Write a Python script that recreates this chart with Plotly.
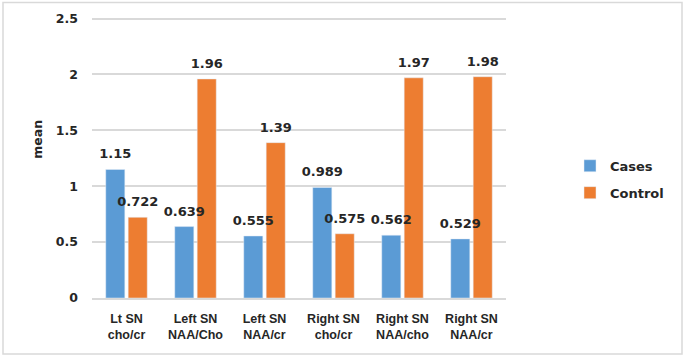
import plotly.graph_objects as go

categories = ["Lt SN<br>cho/cr", "Left SN<br>NAA/Cho", "Left SN<br>NAA/cr",
              "Right SN<br>cho/cr", "Right SN<br>NAA/cho", "Right SN<br>NAA/cr"]
cases = [1.15, 0.639, 0.555, 0.989, 0.562, 0.529]
control = [0.722, 1.96, 1.39, 0.575, 1.97, 1.98]
cases_labels = ["1.15", "0.639", "0.555", "0.989", "0.562", "0.529"]
control_labels = ["0.722", "1.96", "1.39", "0.575", "1.97", "1.98"]
y_ticks = [0, 0.5, 1, 1.5, 2, 2.5]
y_tick_text = ["0", "0.5", "1", "1.5", "2", "2.5"]
y_title = "mean"

FONT = "DejaVu Sans"
XFONT = "Liberation Sans"
TXT = "#262626"
BLUE, ORANGE = "#5B9BD5", "#ED7D31"
label_font = dict(family=FONT, size=13, color=TXT)

W, H = 685, 357
ml, mr, mb = 92, 179, 59
YMAX = 2.55
unit = (298 - 19) / 2.5          # px per data unit
ph = YMAX * unit
mt = H - mb - ph
pw = W - ml - mr
shift = 5 / unit                  # raise labels a little above bar tops

def px_x(p):
    return (p - ml) / pw

def px_y(p):
    return (H - mb - p) / ph

fig = go.Figure()
fig.add_trace(go.Bar(name="Cases", x=categories, y=cases, marker_color=BLUE,
                     offsetgroup="1", legendgroup="a", hoverinfo="skip"))
fig.add_trace(go.Bar(name="Control", x=categories, y=control, marker_color=ORANGE,
                     offsetgroup="2", legendgroup="b", hoverinfo="skip"))
# transparent copies carrying the value labels, drawn on top of all bars
fig.add_trace(go.Bar(x=categories, y=cases, yaxis="y2", offsetgroup="1",
                     marker=dict(color="rgba(0,0,0,0)", line=dict(width=0)),
                     showlegend=False, hoverinfo="skip",
                     text=cases_labels, texttemplate="<b>%{text}</b>",
                     textposition="outside", textfont=label_font,
                     constraintext="none", cliponaxis=False))
fig.add_trace(go.Bar(x=categories, y=control, yaxis="y2", offsetgroup="2",
                     marker=dict(color="rgba(0,0,0,0)", line=dict(width=0)),
                     showlegend=False, hoverinfo="skip",
                     text=control_labels, texttemplate="<b>%{text}</b>",
                     textposition="outside", textfont=label_font,
                     constraintext="none", cliponaxis=False))

fig.update_layout(
    width=W, height=H,
    margin=dict(l=ml, r=mr, t=mt, b=mb, autoexpand=False),
    paper_bgcolor="white", plot_bgcolor="white",
    barmode="group", bargap=0.35, bargroupgap=0.15,
    font=dict(family=FONT, size=13, color=TXT),
    legend=dict(x=px_x(570), y=px_y(151), xanchor="left", yanchor="top",
                font=dict(family=FONT, size=13, color=TXT, weight="bold"),
                itemwidth=30, tracegroupgap=7, bgcolor="rgba(0,0,0,0)"),
    shapes=[dict(type="rect", xref="paper", yref="paper",
                 x0=px_x(3), x1=px_x(682), y0=px_y(354), y1=px_y(3),
                 line=dict(color="#d9d9d9", width=1.5))],
    annotations=[dict(text="<b>%s</b>" % y_title, xref="paper", yref="paper",
                      x=px_x(38), y=px_y(140), textangle=-90, showarrow=False,
                      xanchor="center", yanchor="middle",
                      font=dict(family=FONT, size=12.5, color=TXT))],
    yaxis=dict(range=[0, YMAX], tickvals=y_ticks,
               ticktext=["<b>%s</b>" % t for t in y_tick_text],
               showgrid=True, gridcolor="#d9d9d9", gridwidth=1.5, zeroline=False,
               automargin=False, ticks="", ticklen=0, ticklabelstandoff=13,
               tickfont=dict(family=FONT, size=12.5, color=TXT)),
    yaxis2=dict(overlaying="y", range=[-shift, YMAX - shift], visible=False,
                showgrid=False, zeroline=False, showline=False, showticklabels=False),
    xaxis=dict(showline=True, linecolor="#d9d9d9", linewidth=2, ticks="",
               automargin=False, ticklabelstandoff=8,
               tickfont=dict(family=XFONT, size=12.5, color=TXT),
               ticktext=["<b>%s</b>" % c for c in categories], tickvals=categories),
)

fig.write_html("out.html", config=dict(displayModeBar=False),
               post_script="document.body.style.margin='0';")
